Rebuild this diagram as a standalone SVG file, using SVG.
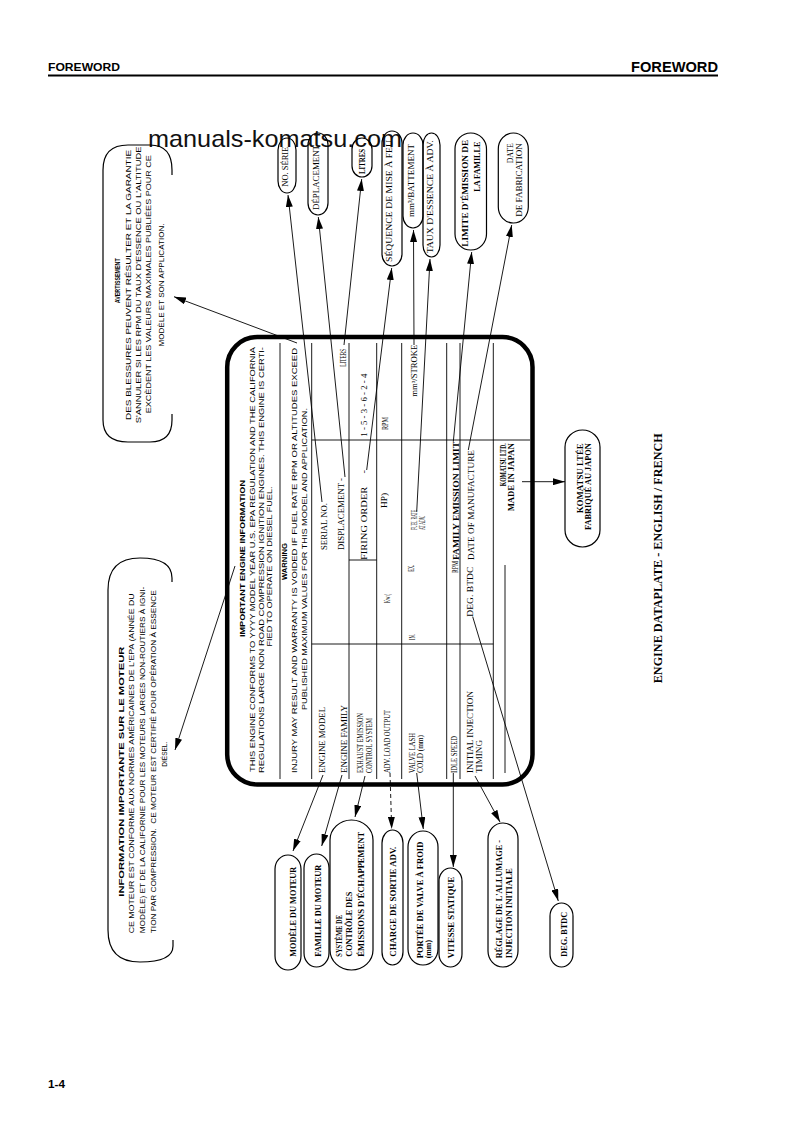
<svg xmlns="http://www.w3.org/2000/svg" width="793" height="1123" viewBox="0 0 793 1123">
<style>
.s{font-family:"Liberation Sans",Arial,sans-serif}
.t{font-family:"Liberation Serif","Times New Roman",serif}
.b{font-weight:bold}
.box{fill:none;stroke:#000;stroke-width:1.2}
.ln{fill:none;stroke:#000;stroke-width:0.9}
.ar{marker-end:url(#ah)}
.p7{font-size:7px}
.c8{font-size:8.5px}
.l8{font-size:8px}
</style>
<defs>
<marker id="ah" viewBox="0 0 12 7" refX="12" refY="3.5" markerWidth="12" markerHeight="7" markerUnits="userSpaceOnUse" orient="auto"><path d="M0,0 L12,3.5 L0,7 z" fill="#000"/></marker>
</defs>
<rect width="793" height="1123" fill="#fff"/>

<g id="header">
<text class="s b" font-size="10" x="48" y="71" textLength="72" lengthAdjust="spacingAndGlyphs">FOREWORD</text>
<text class="s b" font-size="14.5" x="718" y="72" text-anchor="end" textLength="87" lengthAdjust="spacingAndGlyphs">FOREWORD</text>
<line x1="48" y1="75.5" x2="718" y2="75.5" stroke="#000" stroke-width="2"/>
</g>
<text id="footer" class="s b" font-size="11" x="48" y="1088" textLength="17" lengthAdjust="spacingAndGlyphs">1-4</text>
<text id="watermark" class="s" font-size="24" x="148" y="147" textLength="254" lengthAdjust="spacingAndGlyphs" fill="#111">manuals-komatsu.com</text>

<g id="connectors">
<line class="ln ar" x1="322" y1="502" x2="288" y2="195"/>
<line class="ln ar" x1="345" y1="477" x2="318.3" y2="217"/>
<line class="ln ar" x1="344" y1="345" x2="361.7" y2="179"/>
<line class="ln ar" x1="366.7" y1="470" x2="391.7" y2="268"/>
<line class="ln ar" x1="414" y1="345" x2="413.5" y2="230"/>
<line class="ln ar" x1="416.7" y1="511.7" x2="430" y2="259"/>
<line class="ln ar" x1="453.3" y1="441.7" x2="471.7" y2="252"/>
<line class="ln ar" x1="468.3" y1="450" x2="511.7" y2="225"/>
<line class="ln ar" x1="323" y1="775" x2="293" y2="851"/>
<line class="ln ar" x1="342" y1="775" x2="321.7" y2="846"/>
<line class="ln ar" x1="365" y1="776" x2="355" y2="817"/>
<line class="ln ar" x1="390" y1="773" x2="391.7" y2="829" stroke-dasharray="4,3"/>
<line class="ln ar" x1="416.7" y1="773" x2="423.3" y2="829"/>
<line class="ln ar" x1="453.3" y1="773" x2="453.3" y2="867"/>
<line class="ln ar" x1="475" y1="776" x2="500" y2="822"/>
<line class="ln ar" x1="472.7" y1="616.7" x2="558.3" y2="901"/>
<line class="ln ar" x1="522" y1="481.7" x2="565" y2="481.7"/>
<line class="ln ar" x1="297" y1="343" x2="174" y2="296.7"/>
<line class="ln ar" x1="235" y1="566" x2="175" y2="750"/>
</g>

<g id="plate">
<rect x="227.2" y="337" width="305.3" height="447.5" rx="30" ry="30" fill="none" stroke="#000" stroke-width="4.5"/>
<g class="ln">
<line x1="280" y1="343" x2="280" y2="779"/>
<line x1="311.7" y1="343" x2="311.7" y2="779"/>
<line x1="349" y1="343" x2="349" y2="779"/>
<line x1="376.7" y1="343" x2="376.7" y2="779"/>
<line x1="401.7" y1="343" x2="401.7" y2="779"/>
<line x1="446.7" y1="343" x2="446.7" y2="779"/>
<line x1="460" y1="343" x2="460" y2="779"/>
<line x1="493.3" y1="343" x2="493.3" y2="779"/>
<line x1="311.7" y1="440" x2="530" y2="440"/>
<line x1="311.7" y1="644" x2="493.3" y2="644"/>
<line x1="349" y1="560" x2="376.7" y2="560"/>
<line x1="505" y1="565" x2="505" y2="773"/>
</g>
<g class="s p7">
<text class="b" font-size="7.5" transform="translate(245,558.5) rotate(-90)" text-anchor="middle" textLength="157" lengthAdjust="spacingAndGlyphs">IMPORTANT ENGINE INFORMATION</text>
<text transform="translate(255,559.5) rotate(-90)" text-anchor="middle" textLength="425" lengthAdjust="spacingAndGlyphs">THIS ENGINE CONFORMS TO YYYY MODEL YEAR U.S. EPA REGULATION AND THE CALIFORNIA</text>
<text transform="translate(263.5,560) rotate(-90)" text-anchor="middle" textLength="426" lengthAdjust="spacingAndGlyphs">REGULATIONS LARGE NON ROAD COMPRESSION IGNITION ENGINES. THIS ENGINE IS CERTI-</text>
<text transform="translate(272,566.5) rotate(-90)" text-anchor="middle" textLength="160" lengthAdjust="spacingAndGlyphs">FIED TO OPERATE ON DIESEL FUEL.</text>
<text class="b" transform="translate(287,561.5) rotate(-90)" text-anchor="middle" textLength="37" lengthAdjust="spacingAndGlyphs">WARNING</text>
<text transform="translate(297,560.5) rotate(-90)" text-anchor="middle" textLength="425" lengthAdjust="spacingAndGlyphs">INJURY MAY RESULT AND WARRANTY IS VOIDED IF FUEL RATE RPM OR ALTITUDES EXCEED</text>
<text transform="translate(307,559) rotate(-90)" text-anchor="middle" textLength="302" lengthAdjust="spacingAndGlyphs">PUBLISHED MAXIMUM VALUES FOR THIS MODEL AND APPLICATION.</text>
</g>
<g class="t" font-size="7.5">
<text transform="translate(325,773) rotate(-90)" textLength="66" lengthAdjust="spacingAndGlyphs">ENGINE MODEL</text>
<text transform="translate(326.5,550) rotate(-90)" textLength="47" lengthAdjust="spacingAndGlyphs">SERIAL NO.</text>
<text transform="translate(346.7,773) rotate(-90)" textLength="68" lengthAdjust="spacingAndGlyphs">ENGINE FAMILY</text>
<text transform="translate(343.5,550) rotate(-90)" textLength="72" lengthAdjust="spacingAndGlyphs">DISPLACEMENT -</text>
<text transform="translate(346,366.7) rotate(-90)" textLength="18" lengthAdjust="spacingAndGlyphs">LITERS</text>
<text transform="translate(363.3,773) rotate(-90)" textLength="60" lengthAdjust="spacingAndGlyphs">EXHAUST EMISSION</text>
<text transform="translate(371.7,773) rotate(-90)" textLength="55" lengthAdjust="spacingAndGlyphs">CONTROL SYSTEM</text>
<text transform="translate(367,560) rotate(-90)" textLength="90" lengthAdjust="spacingAndGlyphs" xml:space="preserve">FIRING ORDER     -</text>
<text transform="translate(367,436.7) rotate(-90)" textLength="63" lengthAdjust="spacingAndGlyphs">1 - 5 - 3 - 6 - 2 - 4</text>
<text transform="translate(390,773) rotate(-90)" textLength="63" lengthAdjust="spacingAndGlyphs">ADV. LOAD OUTPUT</text>
<text transform="translate(390,603) rotate(-90)" textLength="9" lengthAdjust="spacingAndGlyphs">Kw (</text>
<text transform="translate(387,508) rotate(-90)" textLength="15" lengthAdjust="spacingAndGlyphs">HP)</text>
<text transform="translate(387.5,430) rotate(-90)" textLength="13" lengthAdjust="spacingAndGlyphs">RPM</text>
<text transform="translate(415,773) rotate(-90)" textLength="40" lengthAdjust="spacingAndGlyphs">VALVE LASH</text>
<text transform="translate(423.3,773) rotate(-90)" textLength="38" lengthAdjust="spacingAndGlyphs">COLD (mm)</text>
<text transform="translate(414.5,640) rotate(-90)" textLength="6" lengthAdjust="spacingAndGlyphs">IN.</text>
<text transform="translate(413.5,571.7) rotate(-90)" textLength="7" lengthAdjust="spacingAndGlyphs">EX.</text>
<text transform="translate(417,530) rotate(-90)" textLength="20" lengthAdjust="spacingAndGlyphs">FUEL RATE</text>
<text transform="translate(424.5,530) rotate(-90)" textLength="14" lengthAdjust="spacingAndGlyphs">AT ADV.</text>
<text transform="translate(417,396.7) rotate(-90)" textLength="52" lengthAdjust="spacingAndGlyphs">mm³/STROKE</text>
<text transform="translate(457,773) rotate(-90)" textLength="37" lengthAdjust="spacingAndGlyphs">IDLE SPEED</text>
<text transform="translate(457.5,573) rotate(-90)" textLength="12" lengthAdjust="spacingAndGlyphs">RPM</text>
<text class="b" transform="translate(458.5,560) rotate(-90)" textLength="118" lengthAdjust="spacingAndGlyphs">FAMILY EMISSION LIMIT</text>
<text transform="translate(472.5,773) rotate(-90)" textLength="82" lengthAdjust="spacingAndGlyphs">INITIAL INJECTION</text>
<text transform="translate(481.7,773) rotate(-90)" textLength="33" lengthAdjust="spacingAndGlyphs">TIMING</text>
<text transform="translate(472.5,616.7) rotate(-90)" textLength="50" lengthAdjust="spacingAndGlyphs">DEG. BTDC</text>
<text transform="translate(473.5,560) rotate(-90)" textLength="110" lengthAdjust="spacingAndGlyphs">DATE OF MANUFACTURE</text>
<text class="b" transform="translate(505.5,443.3) rotate(-90)" text-anchor="end" textLength="43" lengthAdjust="spacingAndGlyphs">KOMATSU LTD.</text>
<text class="b" transform="translate(513.5,443.3) rotate(-90)" text-anchor="end" textLength="68" lengthAdjust="spacingAndGlyphs">MADE IN JAPAN</text>
</g>
</g>

<g id="avertissement">
<path class="box" d="M103,420 L103,170 Q103,145 128,145 L150,145 Q172,145 172,170 L172,175"/>
<path class="box" d="M103,420 Q103,442 128,442 L150,442 Q172,442 172,420 L172,414"/>
<g class="s l8">
<text class="b" font-size="7" transform="translate(120,280.8) rotate(-90)" text-anchor="middle" textLength="45" lengthAdjust="spacingAndGlyphs">AVERTISSEMENT</text>
<text transform="translate(131,285) rotate(-90)" text-anchor="middle" textLength="270" lengthAdjust="spacingAndGlyphs">DES BLESSURES PEUVENT RÉSULTER ET LA GARANTIE</text>
<text transform="translate(141,285) rotate(-90)" text-anchor="middle" textLength="276.7" lengthAdjust="spacingAndGlyphs">S'ANNULER SI LES RPM DU TAUX D'ESSENCE OU L'ALTITUDE</text>
<text transform="translate(151,284.2) rotate(-90)" text-anchor="middle" textLength="258" lengthAdjust="spacingAndGlyphs">EXCÈDENT LES VALEURS MAXIMALES PUBLIÉES POUR CE</text>
<text transform="translate(163.5,285) rotate(-90)" text-anchor="middle" textLength="123" lengthAdjust="spacingAndGlyphs">MODÈLE ET SON APPLICATION.</text>
</g>
</g>

<g id="information">
<path class="box" d="M172,582 L172,578 Q172,558 140,558 Q108,558 108,590 L108,930 Q108,962 140,962 Q173,962 173,946 L173,940"/>
<g class="s l8">
<text class="b" transform="translate(123.5,771.7) rotate(-90)" text-anchor="middle" textLength="250" lengthAdjust="spacingAndGlyphs">INFORMATION IMPORTANTE SUR LE MOTEUR</text>
<text transform="translate(134,763.3) rotate(-90)" text-anchor="middle" textLength="340" lengthAdjust="spacingAndGlyphs">CE MOTEUR EST CONFORME AUX NORMES AMÉRICAINES DE L'EPA (ANNÉE DU</text>
<text transform="translate(144.5,760) rotate(-90)" text-anchor="middle" textLength="346.7" lengthAdjust="spacingAndGlyphs">MODÈLE) ET DE LA CALIFORNIE POUR LES MOTEURS LARGES NON-ROUTIERS À IGNI-</text>
<text transform="translate(156,761.7) rotate(-90)" text-anchor="middle" textLength="343" lengthAdjust="spacingAndGlyphs" xml:space="preserve">TION PAR COMPRESSION.  CE MOTEUR EST CERTIFIÉ POUR OPÉRATION À ESSENCE</text>
<text transform="translate(167,754.2) rotate(-90)" text-anchor="middle" textLength="25" lengthAdjust="spacingAndGlyphs">DIÉSEL.</text>
</g>
</g>

<g class="t c8">
<g id="no-serie"><rect class="box" x="278" y="138" width="18" height="55" rx="9" ry="12"/><text transform="translate(288,186.7) rotate(-90)" textLength="40" lengthAdjust="spacingAndGlyphs">NO. SÉRIE</text></g>
<g id="deplacement"><rect class="box" x="308" y="133" width="20" height="82" rx="10" ry="12"/><text transform="translate(318.5,210) rotate(-90)" textLength="65" lengthAdjust="spacingAndGlyphs">DÉPLACEMENT</text></g>
<g id="litres"><rect class="box" x="352" y="138" width="20" height="39" rx="10" ry="11"/><text class="b" transform="translate(365,174) rotate(-90)" textLength="25" lengthAdjust="spacingAndGlyphs">LITRES</text></g>
<g id="sequence"><rect class="box" x="382" y="131" width="20" height="135" rx="10" ry="12"/><text transform="translate(392,262) rotate(-90)" textLength="122" lengthAdjust="spacingAndGlyphs">SÉQUENCE DE MISE À FEU</text></g>
<g id="battement"><rect class="box" x="403" y="133" width="20" height="95" rx="10" ry="12"/><text transform="translate(413.5,217) rotate(-90)" textLength="73" lengthAdjust="spacingAndGlyphs">mm³/BATTEMENT</text></g>
<g id="taux"><rect class="box" x="423" y="133" width="17" height="124" rx="8.5" ry="12"/><text transform="translate(433,253.3) rotate(-90)" textLength="113" lengthAdjust="spacingAndGlyphs">TAUX D'ESSENCE À ADV.</text></g>
<g id="limite"><rect class="box" x="455" y="133" width="31.5" height="117" rx="15.7" ry="16"/><text class="b" transform="translate(467.5,140) rotate(-90)" text-anchor="end" textLength="106.7" lengthAdjust="spacingAndGlyphs">LIMITE D'ÉMISSION DE</text><text class="b" transform="translate(480,141.7) rotate(-90)" text-anchor="end" textLength="50" lengthAdjust="spacingAndGlyphs">LA FAMILLE</text></g>
<g id="date"><rect class="box" x="498.3" y="133" width="30" height="90" rx="15" ry="16"/><text transform="translate(512.5,143.3) rotate(-90)" text-anchor="end" textLength="20" lengthAdjust="spacingAndGlyphs">DATE</text><text transform="translate(522,143.3) rotate(-90)" text-anchor="end" textLength="73.4" lengthAdjust="spacingAndGlyphs">DE FABRICATION</text></g>

<g class="b">
<g id="modele"><rect class="box" x="275" y="855" width="26" height="115" rx="13" ry="14"/><text transform="translate(296,956.7) rotate(-90)" textLength="90" lengthAdjust="spacingAndGlyphs">MODÈLE DU MOTEUR</text></g>
<g id="famille"><rect class="box" x="304" y="854" width="25" height="113" rx="12.5" ry="14"/><text transform="translate(321,956.7) rotate(-90)" textLength="92" lengthAdjust="spacingAndGlyphs">FAMILLE DU MOTEUR</text></g>
<g id="systeme"><rect class="box" x="330" y="820" width="43" height="150" rx="21.5" ry="20"/><text transform="translate(342.3,956.7) rotate(-90)" textLength="41.7" lengthAdjust="spacingAndGlyphs">SYSTÈME DE</text><text transform="translate(352.3,956.7) rotate(-90)" textLength="65" lengthAdjust="spacingAndGlyphs">CONTRÔLE DES</text><text transform="translate(364.3,956.7) rotate(-90)" textLength="125" lengthAdjust="spacingAndGlyphs">ÉMISSIONS D'ÉCHAPPEMENT</text></g>
<g id="charge"><rect class="box" x="382" y="830" width="21" height="135" rx="10.5" ry="13"/><text transform="translate(396,956.7) rotate(-90)" textLength="110" lengthAdjust="spacingAndGlyphs">CHARGE DE SORTIE ADV.</text></g>
<g id="portee"><rect class="box" x="408" y="831" width="30" height="134" rx="15" ry="16"/><text transform="translate(422.5,958.3) rotate(-90)" textLength="116.6" lengthAdjust="spacingAndGlyphs">PORTÉE DE VALVE À FROID</text><text transform="translate(431,958.3) rotate(-90)" textLength="18.3" lengthAdjust="spacingAndGlyphs">(mm)</text></g>
<g id="vitesse"><rect class="box" x="439" y="868" width="23" height="99" rx="11.5" ry="13"/><text transform="translate(454,958.3) rotate(-90)" textLength="81.6" lengthAdjust="spacingAndGlyphs">VITESSE STATIQUE</text></g>
<g id="reglage"><rect class="box" x="488" y="823" width="30" height="144" rx="15" ry="16"/><text transform="translate(502,958.3) rotate(-90)" textLength="118.3" lengthAdjust="spacingAndGlyphs">RÉGLAGE DE L'ALLUMAGE -</text><text transform="translate(512,958.3) rotate(-90)" textLength="90" lengthAdjust="spacingAndGlyphs">INJECTION INITIALE</text></g>
<g id="deg-btdc"><rect class="box" x="550" y="903" width="23" height="64" rx="11.5" ry="13"/><text transform="translate(567,956.7) rotate(-90)" textLength="45" lengthAdjust="spacingAndGlyphs">DEG. BTDC</text></g>
<g id="komatsu"><rect class="box" x="565" y="430" width="35" height="117" rx="17.5" ry="17"/><text transform="translate(582.5,443.3) rotate(-90)" text-anchor="end" textLength="70" lengthAdjust="spacingAndGlyphs">KOMATSU LTÉE</text><text transform="translate(591,443.3) rotate(-90)" text-anchor="end" textLength="86.7" lengthAdjust="spacingAndGlyphs">FABRIQUÉ AU JAPON</text></g>
</g>
</g>

<text id="title" class="t b" font-size="12" transform="translate(662,558.3) rotate(-90)" text-anchor="middle" textLength="250" lengthAdjust="spacingAndGlyphs">ENGINE DATAPLATE - ENGLISH / FRENCH</text>
</svg>
